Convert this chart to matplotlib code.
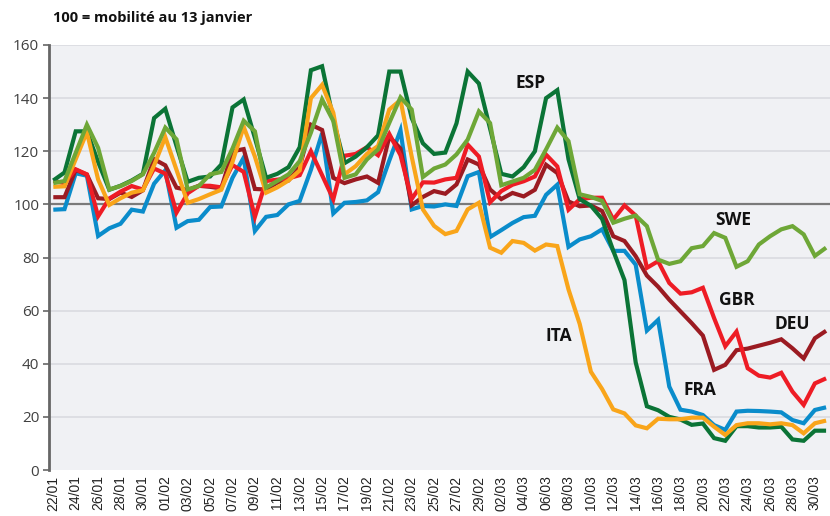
import numpy as np
import pandas as pd
import matplotlib
matplotlib.use("Agg")
import matplotlib.pyplot as plt

# Citymapper-style mobility index, 100 = mobility on 13 January
dates = pd.date_range("2020-01-22", "2020-03-31", freq="D")
day_labels = [d.strftime("%d/%m") for d in dates]

esp = [109, 112, 127.5, 127.5, 116, 105.5, 107, 109, 111.5, 132.5,
       136, 122, 108.5, 110, 110.5, 115, 136.5, 139.5, 125, 110,
       111.5, 114, 121.5, 150.5, 152, 132, 115.5, 118, 121.5, 126,
       150, 150, 132.5, 123, 119, 119.5, 130.5, 150, 145.5, 128.5,
       111.5, 110.5, 114, 120, 140, 143, 117, 102, 99.5, 94.5,
       82.5, 71.5, 40.5, 24, 22.5, 20, 19, 17, 17.5, 12,
       11, 16.5, 16.5, 16, 16, 16.3, 11.5, 11, 14.8, 14.8]

swe = [108, 108.8, 119.4, 130, 121.3, 105.6, 106.9, 108.8, 111.3, 119.4,
       128.9, 124.5, 105.6, 106.9, 111.3, 112.2, 121, 131.5, 127.5, 106.3,
       108.8, 111.3, 116.3, 127, 139.5, 131.4, 110, 111.3, 116.9, 120.7,
       130.7, 140.3, 135.7, 110.3, 113.5, 115, 118.8, 124.4, 135, 130.6,
       107.2, 108.6, 110, 113, 120.7, 128.9, 123.8, 103.8, 102.8, 101.3,
       93.1, 94.6, 95.8, 91.8, 79.2, 77.6, 78.6, 83.5, 84.3, 89.2,
       87.4, 76.5, 78.6, 84.9, 88, 90.6, 91.8, 88.7, 80.6, 83.7]

gbr = [108.8, 108, 113.2, 111.3, 95.5, 102.2, 104.8, 106.9, 105.6, 113.5,
       111.6, 96.9, 104.2, 107, 107, 106.4, 114.8, 112.2, 95.3, 108.8,
       109.3, 109.8, 111, 120, 111, 101.9, 118.3, 119, 121.5, 118.5,
       126.5, 118.5, 102, 108.3, 108.2, 109.4, 110, 122.5, 118, 100.8,
       105, 107.4, 108.7, 110.5, 118.7, 114.3, 98, 101.9, 102.5, 102.5,
       94.3, 99.6, 95.8, 76.1, 78.6, 70.4, 66.4, 66.9, 68.6, 57.2,
       46.6, 52.1, 38.3, 35.5, 34.8, 36.6, 29.5, 24.5, 32.6, 34.5]

deu = [102.7, 102.7, 113, 111.2, 102.3, 102, 104.4, 102.8, 105.3, 117,
       114.7, 106.3, 105.4, 107, 106.6, 106, 120, 120.8, 105.8, 105.6,
       108.2, 109, 114, 130, 128, 110, 108, 109.4, 110.5, 108.1,
       125.5, 121, 99.7, 102.8, 105, 104, 107.5, 116.9, 115, 105.6,
       102, 104.3, 103, 105.5, 114.9, 111.8, 101.1, 99.3, 99.6, 97.5,
       88, 86.2, 80.5, 73.2, 69, 64.1, 59.7, 55.3, 50.6, 37.7,
       39.6, 45.1, 45.7, 46.8, 47.9, 49.2, 45.8, 42, 49.6, 52.4]

ita = [106.6, 106.8, 117, 127.2, 109.4, 99.8, 102.3, 104.4, 105.3, 114.7,
       125.3, 113, 100.6, 102, 103.8, 105.5, 116, 129.2, 118, 104.4,
       106.4, 109, 112.8, 140, 145, 134.5, 111.3, 114.4, 119, 122,
       135.7, 139.3, 118, 98.1, 91.9, 88.8, 90, 98.1, 100.6, 83.7,
       81.8, 86.2, 85.5, 82.6, 84.9, 84.3, 68, 55, 37, 30.5,
       22.8, 21.3, 16.8, 15.7, 19.3, 19.1, 19.1, 19.7, 19.7, 16.3,
       13.2, 16.9, 17.6, 17.6, 17.2, 17.6, 16.9, 13.8, 17.6, 18.6]

fra = [98, 98.2, 111.7, 110.8, 88.1, 91, 92.7, 98, 97.3, 107.8,
       112.8, 91.2, 93.7, 94.2, 99, 99.2, 110, 117.6, 90, 95.3,
       96, 100, 101.3, 113, 126.8, 96.6, 100.6, 100.9, 101.5, 104.6,
       116.5, 127.9, 98.1, 99.4, 99.2, 100, 99.4, 110.6, 112.2, 87.7,
       90.3, 93, 95.2, 95.7, 103.6, 107.4, 84, 86.8, 88, 90.6,
       82.5, 82.5, 77.3, 52.5, 56.5, 31.4, 22.7, 22, 20.7, 16.9,
       15.1, 22, 22.3, 22.2, 22, 21.7, 18.8, 17.6, 22.6, 23.6]

x = np.arange(len(dates))

fig = plt.figure(figsize=(8.3, 5.16), dpi=100)
ax = fig.add_axes([49 / 830, 46 / 516, 781 / 830, 425 / 516])
ax.set_facecolor("#F0F1F4")

# horizontal grid, the 100 baseline is drawn darker
for yv in range(20, 161, 20):
    if yv == 100:
        continue
    ax.axhline(yv, color="#DCDDE2", lw=1.3, zorder=1)
ax.axhline(100, color="#7A7A7A", lw=1.6, zorder=2)

series = [
    (fra, "#0A8CCB"),
    (deu, "#9B1B22"),
    (gbr, "#EE1C25"),
    (esp, "#0B7436"),
    (ita, "#F9A51A"),
    (swe, "#6EA737"),
]
for vals, col in series:
    ax.plot(x, vals, color=col, lw=3.0, solid_joinstyle="miter",
            solid_capstyle="butt", zorder=3)

ax.set_xlim(-0.384, 69.35)
ax.set_ylim(0, 160)
ax.set_yticks(range(0, 161, 20))
ax.set_xticks(x[::2])
ax.set_xticklabels(day_labels[::2], rotation=90, fontsize=10,
                   family="Liberation Sans", color="#222222")
ax.tick_params(axis="x", length=0, pad=4)
ax.tick_params(axis="y", length=4, width=1.2, color="#666666", pad=3,
               labelsize=11, labelcolor="#404040")
for lab in ax.get_yticklabels():
    lab.set_family("Open Sans")

for side in ["top", "right", "bottom"]:
    ax.spines[side].set_visible(False)
ax.spines["left"].set_color("#666666")
ax.spines["left"].set_linewidth(2)

# series names next to their lines
names = [("ESP", 42.6, 145.7), ("SWE", 60.7, 94.1), ("GBR", 61.0, 64.0),
         ("DEU", 66.0, 55.0), ("ITA", 45.1, 50.5), ("FRA", 57.7, 30.1)]
for txt, tx, ty in names:
    ax.text(tx, ty, txt, fontsize=12.5, fontweight="bold", family="Open Sans",
            color="#111111", ha="center", va="center", zorder=5)

fig.text(53 / 830, 1 - 18 / 516, "100 = mobilité au 13 janvier", fontsize=10.5,
         fontweight="bold", family="Open Sans", color="#111111",
         ha="left", va="center")

fig.savefig("out.png", dpi=100)
